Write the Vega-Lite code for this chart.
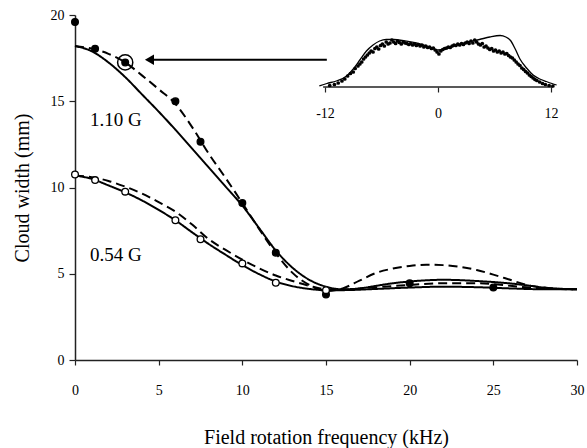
{
  "$schema": "https://vega.github.io/schema/vega-lite/v6.json",
  "width": 502,
  "height": 345,
  "autosize": "none",
  "padding": {"left": 75, "top": 15, "right": 10, "bottom": 88},
  "background": "white",
  "config": {
    "font": "Liberation Serif",
    "view": {"stroke": null},
    "axis": {"grid": false, "labelColor": "black", "titleColor": "black", "labelFont": "Liberation Serif", "titleFont": "Liberation Serif", "titleFontWeight": "normal", "labelFlush": false}
  },
  "datasets": {
    "curves": [
      {"freq": 0, "width": 18.2, "curve": "a_solid", "style": "solid"},
      {"freq": 1, "width": 17.9, "curve": "a_solid", "style": "solid"},
      {"freq": 2, "width": 17.25, "curve": "a_solid", "style": "solid"},
      {"freq": 3, "width": 16.4, "curve": "a_solid", "style": "solid"},
      {"freq": 4, "width": 15.4, "curve": "a_solid", "style": "solid"},
      {"freq": 5, "width": 14.4, "curve": "a_solid", "style": "solid"},
      {"freq": 6, "width": 13.35, "curve": "a_solid", "style": "solid"},
      {"freq": 7, "width": 12.25, "curve": "a_solid", "style": "solid"},
      {"freq": 8, "width": 11.15, "curve": "a_solid", "style": "solid"},
      {"freq": 9, "width": 10.05, "curve": "a_solid", "style": "solid"},
      {"freq": 10, "width": 8.95, "curve": "a_solid", "style": "solid"},
      {"freq": 11, "width": 7.65, "curve": "a_solid", "style": "solid"},
      {"freq": 12, "width": 6.35, "curve": "a_solid", "style": "solid"},
      {"freq": 13, "width": 5.35, "curve": "a_solid", "style": "solid"},
      {"freq": 14, "width": 4.65, "curve": "a_solid", "style": "solid"},
      {"freq": 15, "width": 4.25, "curve": "a_solid", "style": "solid"},
      {"freq": 16, "width": 4.1, "curve": "a_solid", "style": "solid"},
      {"freq": 17, "width": 4.15, "curve": "a_solid", "style": "solid"},
      {"freq": 18, "width": 4.3, "curve": "a_solid", "style": "solid"},
      {"freq": 19, "width": 4.45, "curve": "a_solid", "style": "solid"},
      {"freq": 20, "width": 4.55, "curve": "a_solid", "style": "solid"},
      {"freq": 21, "width": 4.62, "curve": "a_solid", "style": "solid"},
      {"freq": 22, "width": 4.65, "curve": "a_solid", "style": "solid"},
      {"freq": 23, "width": 4.63, "curve": "a_solid", "style": "solid"},
      {"freq": 24, "width": 4.58, "curve": "a_solid", "style": "solid"},
      {"freq": 25, "width": 4.52, "curve": "a_solid", "style": "solid"},
      {"freq": 26, "width": 4.44, "curve": "a_solid", "style": "solid"},
      {"freq": 27, "width": 4.33, "curve": "a_solid", "style": "solid"},
      {"freq": 28, "width": 4.2, "curve": "a_solid", "style": "solid"},
      {"freq": 29, "width": 4.13, "curve": "a_solid", "style": "solid"},
      {"freq": 30, "width": 4.1, "curve": "a_solid", "style": "solid"},

      {"freq": 0, "width": 18.2, "curve": "a_dash", "style": "dashed"},
      {"freq": 1, "width": 18.05, "curve": "a_dash", "style": "dashed"},
      {"freq": 2, "width": 17.75, "curve": "a_dash", "style": "dashed"},
      {"freq": 3, "width": 17.25, "curve": "a_dash", "style": "dashed"},
      {"freq": 4, "width": 16.5, "curve": "a_dash", "style": "dashed"},
      {"freq": 5, "width": 15.7, "curve": "a_dash", "style": "dashed"},
      {"freq": 6, "width": 14.85, "curve": "a_dash", "style": "dashed"},
      {"freq": 7, "width": 13.5, "curve": "a_dash", "style": "dashed"},
      {"freq": 8, "width": 11.95, "curve": "a_dash", "style": "dashed"},
      {"freq": 9, "width": 10.55, "curve": "a_dash", "style": "dashed"},
      {"freq": 10, "width": 9.1, "curve": "a_dash", "style": "dashed"},
      {"freq": 11, "width": 7.6, "curve": "a_dash", "style": "dashed"},
      {"freq": 12, "width": 6.2, "curve": "a_dash", "style": "dashed"},
      {"freq": 13, "width": 5.05, "curve": "a_dash", "style": "dashed"},
      {"freq": 14, "width": 4.35, "curve": "a_dash", "style": "dashed"},
      {"freq": 15, "width": 4.0, "curve": "a_dash", "style": "dashed"},
      {"freq": 16, "width": 4.15, "curve": "a_dash", "style": "dashed"},
      {"freq": 17, "width": 4.6, "curve": "a_dash", "style": "dashed"},
      {"freq": 18, "width": 5.05, "curve": "a_dash", "style": "dashed"},
      {"freq": 19, "width": 5.3, "curve": "a_dash", "style": "dashed"},
      {"freq": 20, "width": 5.45, "curve": "a_dash", "style": "dashed"},
      {"freq": 21, "width": 5.52, "curve": "a_dash", "style": "dashed"},
      {"freq": 22, "width": 5.5, "curve": "a_dash", "style": "dashed"},
      {"freq": 23, "width": 5.4, "curve": "a_dash", "style": "dashed"},
      {"freq": 24, "width": 5.22, "curve": "a_dash", "style": "dashed"},
      {"freq": 25, "width": 4.95, "curve": "a_dash", "style": "dashed"},
      {"freq": 26, "width": 4.65, "curve": "a_dash", "style": "dashed"},
      {"freq": 27, "width": 4.35, "curve": "a_dash", "style": "dashed"},
      {"freq": 28, "width": 4.2, "curve": "a_dash", "style": "dashed"},
      {"freq": 29, "width": 4.12, "curve": "a_dash", "style": "dashed"},
      {"freq": 30, "width": 4.1, "curve": "a_dash", "style": "dashed"},

      {"freq": 0, "width": 10.7, "curve": "b_solid", "style": "solid"},
      {"freq": 1, "width": 10.5, "curve": "b_solid", "style": "solid"},
      {"freq": 2, "width": 10.12, "curve": "b_solid", "style": "solid"},
      {"freq": 3, "width": 9.72, "curve": "b_solid", "style": "solid"},
      {"freq": 4, "width": 9.25, "curve": "b_solid", "style": "solid"},
      {"freq": 5, "width": 8.7, "curve": "b_solid", "style": "solid"},
      {"freq": 6, "width": 8.1, "curve": "b_solid", "style": "solid"},
      {"freq": 7, "width": 7.4, "curve": "b_solid", "style": "solid"},
      {"freq": 8, "width": 6.72, "curve": "b_solid", "style": "solid"},
      {"freq": 9, "width": 6.1, "curve": "b_solid", "style": "solid"},
      {"freq": 10, "width": 5.5, "curve": "b_solid", "style": "solid"},
      {"freq": 11, "width": 4.98, "curve": "b_solid", "style": "solid"},
      {"freq": 12, "width": 4.55, "curve": "b_solid", "style": "solid"},
      {"freq": 13, "width": 4.28, "curve": "b_solid", "style": "solid"},
      {"freq": 14, "width": 4.12, "curve": "b_solid", "style": "solid"},
      {"freq": 15, "width": 4.05, "curve": "b_solid", "style": "solid"},
      {"freq": 16, "width": 4.05, "curve": "b_solid", "style": "solid"},
      {"freq": 18, "width": 4.12, "curve": "b_solid", "style": "solid"},
      {"freq": 20, "width": 4.2, "curve": "b_solid", "style": "solid"},
      {"freq": 22, "width": 4.25, "curve": "b_solid", "style": "solid"},
      {"freq": 24, "width": 4.22, "curve": "b_solid", "style": "solid"},
      {"freq": 26, "width": 4.15, "curve": "b_solid", "style": "solid"},
      {"freq": 28, "width": 4.1, "curve": "b_solid", "style": "solid"},
      {"freq": 30, "width": 4.1, "curve": "b_solid", "style": "solid"},

      {"freq": 0, "width": 10.7, "curve": "b_dash", "style": "dashed"},
      {"freq": 1, "width": 10.6, "curve": "b_dash", "style": "dashed"},
      {"freq": 2, "width": 10.38, "curve": "b_dash", "style": "dashed"},
      {"freq": 3, "width": 10.05, "curve": "b_dash", "style": "dashed"},
      {"freq": 4, "width": 9.65, "curve": "b_dash", "style": "dashed"},
      {"freq": 5, "width": 9.15, "curve": "b_dash", "style": "dashed"},
      {"freq": 6, "width": 8.6, "curve": "b_dash", "style": "dashed"},
      {"freq": 7, "width": 7.85, "curve": "b_dash", "style": "dashed"},
      {"freq": 8, "width": 7.0, "curve": "b_dash", "style": "dashed"},
      {"freq": 9, "width": 6.38, "curve": "b_dash", "style": "dashed"},
      {"freq": 10, "width": 5.82, "curve": "b_dash", "style": "dashed"},
      {"freq": 11, "width": 5.32, "curve": "b_dash", "style": "dashed"},
      {"freq": 12, "width": 4.9, "curve": "b_dash", "style": "dashed"},
      {"freq": 13, "width": 4.58, "curve": "b_dash", "style": "dashed"},
      {"freq": 14, "width": 4.3, "curve": "b_dash", "style": "dashed"},
      {"freq": 15, "width": 4.1, "curve": "b_dash", "style": "dashed"},
      {"freq": 16, "width": 4.08, "curve": "b_dash", "style": "dashed"},
      {"freq": 18, "width": 4.22, "curve": "b_dash", "style": "dashed"},
      {"freq": 20, "width": 4.35, "curve": "b_dash", "style": "dashed"},
      {"freq": 22, "width": 4.45, "curve": "b_dash", "style": "dashed"},
      {"freq": 24, "width": 4.45, "curve": "b_dash", "style": "dashed"},
      {"freq": 25, "width": 4.4, "curve": "b_dash", "style": "dashed"},
      {"freq": 26, "width": 4.3, "curve": "b_dash", "style": "dashed"},
      {"freq": 28, "width": 4.15, "curve": "b_dash", "style": "dashed"},
      {"freq": 30, "width": 4.1, "curve": "b_dash", "style": "dashed"}
    ],
    "points": [
      {"freq": 0, "width": 19.6, "field": "1.10 G"},
      {"freq": 1.2, "width": 18.05, "field": "1.10 G"},
      {"freq": 3, "width": 17.25, "field": "1.10 G"},
      {"freq": 6, "width": 15.0, "field": "1.10 G"},
      {"freq": 7.5, "width": 12.65, "field": "1.10 G"},
      {"freq": 10, "width": 9.1, "field": "1.10 G"},
      {"freq": 12, "width": 6.22, "field": "1.10 G"},
      {"freq": 15, "width": 3.8, "field": "1.10 G"},
      {"freq": 20, "width": 4.45, "field": "1.10 G"},
      {"freq": 25, "width": 4.2, "field": "1.10 G"},
      {"freq": 0, "width": 10.75, "field": "0.54 G"},
      {"freq": 1.2, "width": 10.43, "field": "0.54 G"},
      {"freq": 3, "width": 9.76, "field": "0.54 G"},
      {"freq": 6, "width": 8.1, "field": "0.54 G"},
      {"freq": 7.5, "width": 7.0, "field": "0.54 G"},
      {"freq": 10, "width": 5.6, "field": "0.54 G"},
      {"freq": 12, "width": 4.48, "field": "0.54 G"},
      {"freq": 15, "width": 4.05, "field": "0.54 G"}
    ],
    "circled": [{"freq": 3, "width": 17.25}],
    "arrow": [{"freq": 4.6, "freq_end": 15.05, "width": 17.4}],
    "arrowhead": [{"freq": 4.45, "width": 17.4}],
    "labels": [
      {"freq": 0.9, "width": 13.9, "label": "1.10 G"},
      {"freq": 0.9, "width": 6.1, "label": "0.54 G"}
    ],
    "inset_base": [{"pos": -12.2, "pos_end": 12.2, "h": 0}],
    "inset_fit": [
      {"pos": -12.6, "h": 0.02}, {"pos": -11.8, "h": 0.07}, {"pos": -10.8, "h": 0.12},
      {"pos": -9.7, "h": 0.22}, {"pos": -9.0, "h": 0.36}, {"pos": -8.3, "h": 0.54},
      {"pos": -7.6, "h": 0.72}, {"pos": -6.9, "h": 0.84}, {"pos": -6.2, "h": 0.92},
      {"pos": -5.5, "h": 0.95}, {"pos": -4.7, "h": 0.95}, {"pos": -3.5, "h": 0.92},
      {"pos": -2.3, "h": 0.88}, {"pos": -1.2, "h": 0.82}, {"pos": 0, "h": 0.74},
      {"pos": 0.8, "h": 0.76}, {"pos": 2, "h": 0.84}, {"pos": 3.2, "h": 0.9},
      {"pos": 4.4, "h": 0.95}, {"pos": 5.5, "h": 1.0}, {"pos": 6.6, "h": 1.03},
      {"pos": 7.2, "h": 1.0}, {"pos": 7.7, "h": 0.93}, {"pos": 8.2, "h": 0.76},
      {"pos": 8.7, "h": 0.56}, {"pos": 9.4, "h": 0.38}, {"pos": 10.1, "h": 0.24},
      {"pos": 10.8, "h": 0.16}, {"pos": 11.5, "h": 0.11}, {"pos": 12.1, "h": 0.07},
      {"pos": 12.6, "h": 0.04}
    ],
    "inset_data": [
      {"pos": -11.5, "h": 0.03}, {"pos": -11, "h": 0.05}, {"pos": -10.6, "h": 0.08}, {"pos": -10.2, "h": 0.12},
      {"pos": -9.9, "h": 0.16}, {"pos": -9.6, "h": 0.22}, {"pos": -9.3, "h": 0.27}, {"pos": -9.0, "h": 0.3},
      {"pos": -8.8, "h": 0.37}, {"pos": -8.5, "h": 0.42}, {"pos": -8.3, "h": 0.46}, {"pos": -8.1, "h": 0.5},
      {"pos": -7.9, "h": 0.56}, {"pos": -7.7, "h": 0.6}, {"pos": -7.5, "h": 0.64}, {"pos": -7.3, "h": 0.68},
      {"pos": -7.1, "h": 0.72}, {"pos": -6.9, "h": 0.7}, {"pos": -6.7, "h": 0.77}, {"pos": -6.5, "h": 0.8},
      {"pos": -6.3, "h": 0.76}, {"pos": -6.1, "h": 0.83}, {"pos": -5.9, "h": 0.86}, {"pos": -5.7, "h": 0.82},
      {"pos": -5.5, "h": 0.9}, {"pos": -5.3, "h": 0.86}, {"pos": -5.1, "h": 0.88}, {"pos": -4.9, "h": 0.94},
      {"pos": -4.7, "h": 0.9}, {"pos": -4.5, "h": 0.87}, {"pos": -4.3, "h": 0.92}, {"pos": -4.1, "h": 0.89},
      {"pos": -3.9, "h": 0.86}, {"pos": -3.7, "h": 0.9}, {"pos": -3.5, "h": 0.88}, {"pos": -3.3, "h": 0.87},
      {"pos": -3.1, "h": 0.85}, {"pos": -2.9, "h": 0.87}, {"pos": -2.7, "h": 0.84}, {"pos": -2.5, "h": 0.86},
      {"pos": -2.3, "h": 0.83}, {"pos": -2.1, "h": 0.85}, {"pos": -1.9, "h": 0.82}, {"pos": -1.7, "h": 0.84},
      {"pos": -1.5, "h": 0.8}, {"pos": -1.3, "h": 0.82}, {"pos": -1.1, "h": 0.79}, {"pos": -0.9, "h": 0.8},
      {"pos": -0.7, "h": 0.77}, {"pos": -0.5, "h": 0.78}, {"pos": -0.3, "h": 0.74}, {"pos": -0.1, "h": 0.7},
      {"pos": 0.1, "h": 0.66}, {"pos": 0.3, "h": 0.72}, {"pos": 0.5, "h": 0.75}, {"pos": 0.7, "h": 0.77},
      {"pos": 0.9, "h": 0.78}, {"pos": 1.1, "h": 0.8}, {"pos": 1.3, "h": 0.79}, {"pos": 1.5, "h": 0.82},
      {"pos": 1.7, "h": 0.84}, {"pos": 1.9, "h": 0.83}, {"pos": 2.1, "h": 0.86}, {"pos": 2.3, "h": 0.84},
      {"pos": 2.5, "h": 0.87}, {"pos": 2.7, "h": 0.85}, {"pos": 2.9, "h": 0.88}, {"pos": 3.1, "h": 0.9},
      {"pos": 3.3, "h": 0.87}, {"pos": 3.5, "h": 0.92}, {"pos": 3.7, "h": 0.88}, {"pos": 3.9, "h": 0.94},
      {"pos": 4.1, "h": 0.9}, {"pos": 4.3, "h": 0.86}, {"pos": 4.5, "h": 0.84}, {"pos": 4.7, "h": 0.87},
      {"pos": 4.9, "h": 0.8}, {"pos": 5.1, "h": 0.82}, {"pos": 5.3, "h": 0.78}, {"pos": 5.5, "h": 0.75},
      {"pos": 5.7, "h": 0.77}, {"pos": 5.9, "h": 0.72}, {"pos": 6.1, "h": 0.74}, {"pos": 6.3, "h": 0.7},
      {"pos": 6.5, "h": 0.72}, {"pos": 6.7, "h": 0.68}, {"pos": 6.9, "h": 0.7}, {"pos": 7.1, "h": 0.66},
      {"pos": 7.3, "h": 0.67}, {"pos": 7.5, "h": 0.63}, {"pos": 7.7, "h": 0.6}, {"pos": 7.9, "h": 0.58},
      {"pos": 8.1, "h": 0.54}, {"pos": 8.3, "h": 0.5}, {"pos": 8.5, "h": 0.46}, {"pos": 8.7, "h": 0.43},
      {"pos": 8.9, "h": 0.38}, {"pos": 9.1, "h": 0.35}, {"pos": 9.3, "h": 0.31}, {"pos": 9.5, "h": 0.28},
      {"pos": 9.7, "h": 0.24}, {"pos": 9.9, "h": 0.21}, {"pos": 10.1, "h": 0.18}, {"pos": 10.3, "h": 0.15},
      {"pos": 10.5, "h": 0.13}, {"pos": 10.8, "h": 0.1}, {"pos": 11.1, "h": 0.07}, {"pos": 11.4, "h": 0.05},
      {"pos": 11.8, "h": 0.03}, {"pos": 12.2, "h": 0.02}
    ]
  },
  "layer": [
    {
      "encoding": {
        "x": {
          "field": "freq", "type": "quantitative",
          "scale": {"domain": [0, 30], "nice": false, "zero": false},
          "axis": {"orient": "bottom", "title": "Field rotation frequency (kHz)", "values": [0, 5, 10, 15, 20, 25, 30],
                   "titleFontSize": 20, "labelFontSize": 14, "tickSize": 5, "labelPadding": 18, "titlePadding": 30,
                   "domainColor": "#222", "domainWidth": 1.5, "tickColor": "#222", "tickWidth": 1.2}
        },
        "y": {
          "field": "width", "type": "quantitative",
          "scale": {"domain": [0, 20], "nice": false, "zero": false},
          "axis": {"orient": "left", "title": "Cloud width (mm)", "values": [0, 5, 10, 15, 20],
                   "titleFontSize": 20, "labelFontSize": 14, "tickSize": 6, "labelPadding": 5, "titlePadding": 18,
                   "domainColor": "#222", "domainWidth": 1.5, "tickColor": "#222", "tickWidth": 1.2}
        }
      },
      "layer": [
        {
          "data": {"name": "curves"},
          "mark": {"type": "line", "color": "black", "strokeWidth": 2, "interpolate": "monotone"},
          "encoding": {
            "detail": {"field": "curve"},
            "strokeDash": {"field": "style", "type": "nominal", "scale": {"domain": ["solid", "dashed"], "range": [[1, 0], [9, 5]]}, "legend": null}
          }
        },
        {
          "data": {"name": "points"},
          "mark": {"type": "circle", "size": 45, "stroke": "black", "strokeWidth": 1.3, "opacity": 1},
          "encoding": {
            "fill": {"field": "field", "type": "nominal", "scale": {"domain": ["1.10 G", "0.54 G"], "range": ["black", "white"]}, "legend": null}
          }
        },
        {
          "data": {"name": "circled"},
          "mark": {"type": "point", "shape": "circle", "size": 230, "stroke": "black", "strokeWidth": 1.5, "filled": false, "opacity": 1}
        },
        {
          "data": {"name": "arrow"},
          "mark": {"type": "rule", "color": "black", "strokeWidth": 2},
          "encoding": {"x2": {"field": "freq_end"}}
        },
        {
          "data": {"name": "arrowhead"},
          "mark": {"type": "point", "shape": "triangle-left", "size": 110, "filled": true, "color": "black", "opacity": 1}
        },
        {
          "data": {"name": "labels"},
          "mark": {"type": "text", "align": "left", "baseline": "middle", "fontSize": 19, "font": "Liberation Serif", "color": "black"},
          "encoding": {"text": {"field": "label"}}
        }
      ]
    },
    {
      "encoding": {
        "x": {
          "field": "pos", "type": "quantitative",
          "scale": {"domain": [-38.55, 14.76], "nice": false, "zero": false},
          "axis": {"orient": "bottom", "offset": -273, "values": [-12, 0, 12], "title": null, "domain": false,
                   "labelExpr": "'' + datum.value",
                   "labelFontSize": 14, "tickSize": 5, "labelPadding": 14, "tickColor": "#222", "tickWidth": 1.2}
        },
        "y": {
          "field": "h", "type": "quantitative",
          "scale": {"domain": [-5.46, 1.44], "nice": false, "zero": false},
          "axis": null
        }
      },
      "layer": [
        {
          "data": {"name": "inset_base"},
          "mark": {"type": "rule", "color": "#222", "strokeWidth": 1.3},
          "encoding": {"x2": {"field": "pos_end"}}
        },
        {
          "data": {"name": "inset_data"},
          "mark": {"type": "circle", "size": 14, "color": "black", "opacity": 1}
        },
        {
          "data": {"name": "inset_fit"},
          "mark": {"type": "line", "color": "black", "strokeWidth": 1.3, "interpolate": "monotone"},
          "encoding": {}
        }
      ]
    }
  ],
  "resolve": {"scale": {"x": "independent", "y": "independent"}, "axis": {"x": "independent", "y": "independent"}}
}
